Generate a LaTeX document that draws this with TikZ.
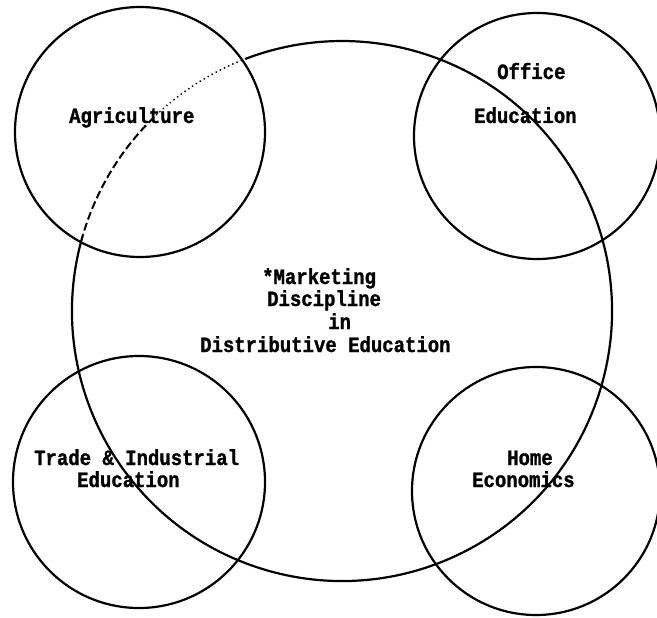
\documentclass[tikz,border=0pt]{standalone}
\usepackage{fontspec}
\newfontfamily\tw{Liberation Mono}[FakeStretch=0.87, FakeBold=1.2]
\begin{document}
\begin{tikzpicture}[x=1bp,y=-1bp,
  ring/.style={draw, circle, line width=2.2bp, inner sep=0pt},
  lbl/.style={anchor=base west, inner sep=0pt, font=\tw\bfseries\fontsize{21.8bp}{25bp}\selectfont},
  bigline/.style={line width=2.2bp},
  dotline/.style={line width=2bp, line cap=round, dash pattern=on 0.1bp off 4.5bp},
  dashline/.style={line width=2bp, dash pattern=on 8bp off 3.5bp}]
\useasboundingbox (0,0) rectangle (657,618);
% large central circle (partly dotted / dashed at upper left)
\coordinate (C) at (342,311);
\draw[bigline] (C) ++(-163.5:270) arc[start angle=-163.5, end angle=-470.9, radius=270];
\draw[dotline] (C) ++(-110.9:270) arc[start angle=-110.9, end angle=-134.1, radius=270];
\draw[dashline] (C) ++(-134.1:270) arc[start angle=-134.1, end angle=-163.5, radius=270];
% four surrounding circles
\node[ring, minimum size=250bp] (agri) at (140,132) {};
\node[ring, minimum size=246bp] (office) at (537,136) {};
\node[ring, minimum size=252bp] (trade) at (139,482) {};
\node[ring, minimum size=248bp] (home) at (536,491) {};
% labels
\node[lbl] (tagri) at (69,123) {Agriculture};
\node[lbl] (toff1) at (497,79) {Office};
\node[lbl] (toff2) at (474,123) {Education};
\node[lbl] (ttr1) at (34,465) {Trade \& Industrial};
\node[lbl] (ttr2) at (77,487) {Education};
\node[lbl] (thm1) at (507,465) {Home};
\node[lbl] (thm2) at (472,487) {Economics};
\node[lbl] (tm1) at (262,284) {*Marketing};
\node[lbl] (tm2) at (267,306) {Discipline};
\node[lbl] (tm3) at (328,329) {in};
\node[lbl] (tm4) at (200,352) {Distributive Education};
\end{tikzpicture}
\end{document}
